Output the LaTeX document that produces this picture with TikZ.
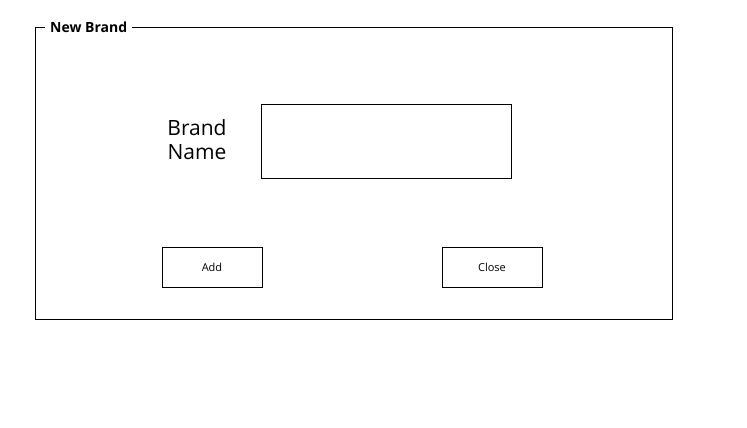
\documentclass[tikz,border=0pt]{standalone}
\usepackage{fontspec}
\setmainfont{Open Sans}
\usetikzlibrary{positioning}
\tikzset{
  btn/.style={draw, line width=0.8pt, minimum width=100pt, minimum height=40pt, inner sep=0pt, font=\fontsize{11}{13}\selectfont},
  field/.style={draw, line width=0.8pt, minimum width=250pt, minimum height=74pt, inner sep=0pt}
}
\begin{document}
\begin{tikzpicture}[x=1pt, y=-1pt]
            \useasboundingbox (0,0) rectangle (747,428);

            % Frame
            \draw[line width=0.8pt] (35,27) rectangle (672,319);
            \node[fill=white, inner xsep=5pt, inner ysep=2pt, font=\fontsize{14}{16}\selectfont\bfseries, anchor=west] (title) at (45,27.5) {New Brand};

            % Brand name field
            \node[align=center, font=\fontsize{21}{24}\selectfont] (label) at (197,139.5) {Brand\\Name};
            \node[field] (name) at (386,141) {};

            % Buttons
            \node[btn] (add) at (212,267) {Add};
            \node[btn] (close) at (492,267) {Close};
        \end{tikzpicture}
\end{document}
